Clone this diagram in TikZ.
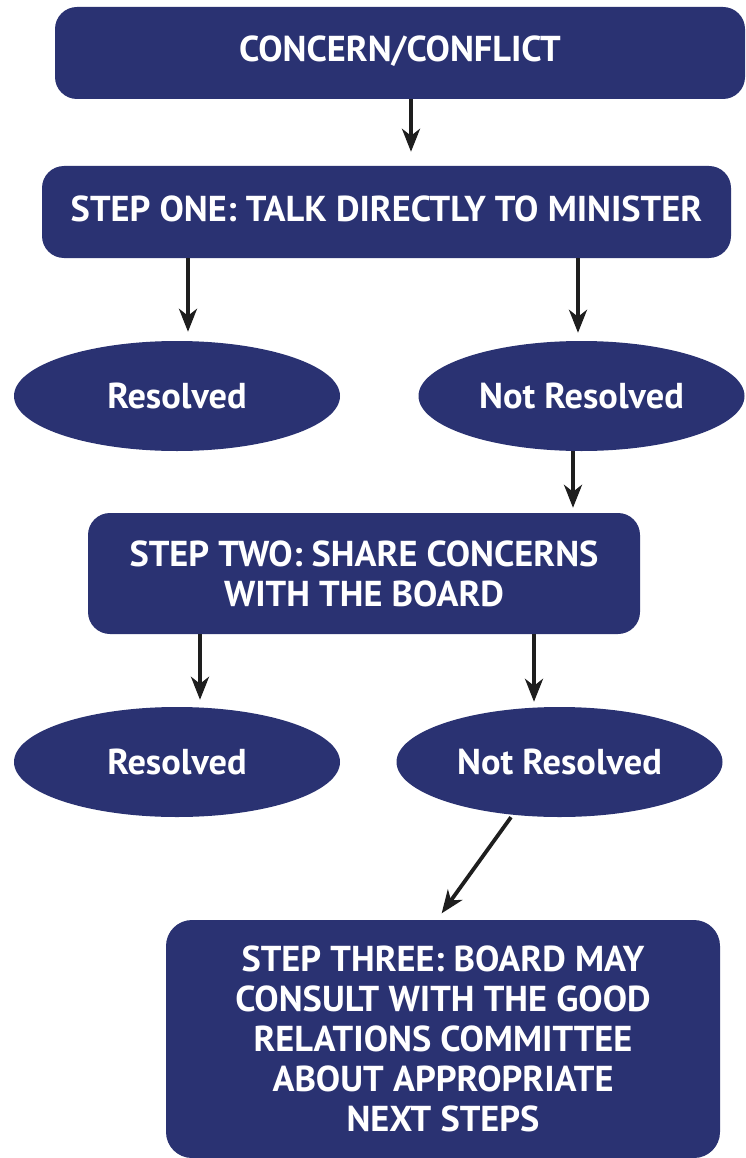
\documentclass[tikz,border=0pt]{standalone}
\usepackage{fontspec}
\setmainfont{PT Sans}[FakeStretch=1.01]
\usetikzlibrary{shapes.geometric,arrows.meta}
\definecolor{navy}{HTML}{2A3272}
\definecolor{arrowink}{HTML}{1E1E1E}
\begin{document}
\begin{tikzpicture}[x=1pt,y=-1pt,
  lbl/.style={text=white, font=\bfseries\fontsize{36}{40}\selectfont, align=center},
  box/.style={lbl, fill=navy, rounded corners=22pt, inner sep=0pt},
  oval/.style={lbl, ellipse, fill=navy, inner sep=0pt, minimum width=326pt, minimum height=110pt},
  arr/.style={draw=arrowink, line width=3.8pt, -{Stealth[length=23pt,width=18pt,inset=7pt]}}]
\useasboundingbox (0,0) rectangle (746,1158);

% process boxes (single-line labels sit slightly above centre)
\node[box, text depth=9pt, minimum width=690pt, minimum height=92pt] (concern) at (400,53) {CONCERN/CONFLICT};
\node[box, text depth=6pt, minimum width=689pt, minimum height=92pt] (one) at (386.5,212) {STEP ONE: TALK DIRECTLY TO MINISTER};
\node[box, minimum width=552pt, minimum height=121pt] (two) at (364,573.5) {STEP TWO: SHARE CONCERNS\\WITH THE BOARD};
\node[box, rounded corners=26pt, minimum width=554pt, minimum height=238pt] (three) at (443,1039)
  {STEP THREE: BOARD MAY\\CONSULT WITH THE GOOD\\RELATIONS COMMITTEE\\ABOUT APPROPRIATE\\NEXT STEPS};

% outcomes
\node[oval] (res1) at (177,396) {Resolved};
\node[oval] (not1) at (581.5,396) {Not Resolved};
\node[oval] (res2) at (177,762) {Resolved};
\node[oval] (not2) at (559.5,762) {Not Resolved};

% connectors
\draw[arr, shorten >=14pt] (concern.south -| 411,0) -- (one.north -| 411,0);
\draw[arr, shorten >=9pt] (one.south -| 188,0) -- (res1.north -| 188,0);
\draw[arr, shorten >=8pt] (one.south -| 578,0) -- (not1.north -| 578,0);
\draw[arr, shorten >=5pt] (not1.south -| 573,0) -- (two.north -| 573,0);
\draw[arr, shorten >=7pt] (two.south -| 200,0) -- (res2.north -| 200,0);
\draw[arr, shorten >=5pt] (two.south -| 534,0) -- (not2.north -| 534,0);
\draw[arr, shorten >=8pt] (not2.south -| 511,0) -- (three.north -| 437,0);
\end{tikzpicture}
\end{document}
